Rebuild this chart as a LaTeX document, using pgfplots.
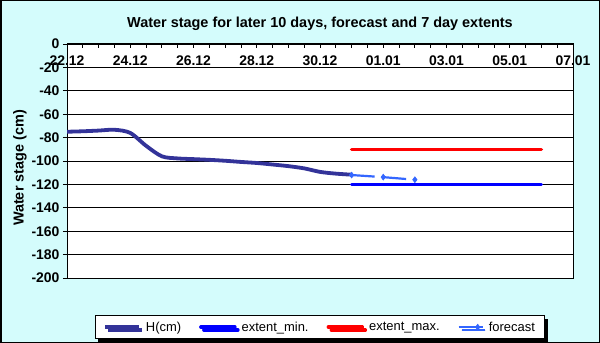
\documentclass[border=0pt]{standalone}
\usepackage{fontspec}
\setmainfont{Liberation Sans}
\usepackage{pgfplots}
\pgfplotsset{compat=1.18}
\usetikzlibrary{shadows}

\definecolor{bgcyan}{RGB}{212,252,252}
\definecolor{hnavy}{RGB}{51,51,153}
\definecolor{fcblue}{RGB}{51,102,255}

\pgfplotsset{fclegend/.style={legend image code/.code={%
    \draw[##1, solid] (0bp,0bp) -- (24bp,0bp);
    \path[##1] plot coordinates {(19bp,0bp)};}}}

% H(cm), read every half day from 22.12 (day 0)
\pgfplotstableread{
x y
0   -75
0.5 -74.6
1   -74
1.5 -73.3
2   -76
2.5 -87
3   -96
3.5 -97.8
4   -98.4
4.5 -99
5   -99.8
5.5 -100.8
6   -101.7
6.5 -103
7   -104.4
7.5 -106.3
8   -109.3
8.5 -110.8
9   -111.7
}\hdata

\begin{document}
\begin{tikzpicture}
\path[use as bounding box] (0,0) rectangle (600bp,343bp);
\fill[bgcyan] (0,0) rectangle (600bp,343bp);
\draw[black, line width=1.5bp] (0.75bp,0.75bp) rectangle (599.25bp,342.25bp);

\begin{axis}[
    at={(67bp,65bp)}, anchor=south west,
    scale only axis, width=506bp, height=234bp,
    xmin=0, xmax=16, ymin=-200, ymax=0,
    axis background/.style={fill=white},
    axis line style={black, line width=1bp},
    xtick={0,2,...,16},
    xticklabels={22.12,24.12,26.12,28.12,30.12,01.01,03.01,05.01,07.01},
    minor xtick={0,0.5,...,16},
    xtick pos=right, xticklabel pos=right,
    xtick align=inside,
    xticklabel style={anchor=north, yshift=-8bp},
    ytick={-200,-180,...,0},
    yticklabels={-200,-180,-160,-140,-120,-100,-80,-60,-40,-20,0},
    ytick pos=left, ytick align=outside,
    ymajorgrids,
    grid style={black, line width=0.8bp},
    tick style={black, line width=0.8bp},
    major tick length=4bp, minor tick length=4bp,
    ticklabel style={font=\fontsize{14}{16}\selectfont\bfseries},
    ylabel={Water stage (cm)},
    ylabel style={font=\fontsize{14.5}{16}\selectfont\bfseries, at={(ticklabel cs:0.47)}, yshift=-2bp},
    title={Water stage for later 10 days, forecast and 7 day extents},
    title style={font=\fontsize{14.5}{16}\selectfont\bfseries, at={(0.5,1)}, anchor=south, yshift=4bp},
    legend columns=4,
    legend style={at={(0.5,-0.21)}, anchor=center, draw=black, fill=white,
        line width=0.8bp, font=\fontsize{13}{15}\selectfont,
        inner xsep=8bp, inner ysep=4bp,
        drop shadow={shadow xshift=3bp, shadow yshift=-3bp, fill=black, opacity=1},
        /tikz/every odd column/.append style={column sep=3bp},
        /tikz/every even column/.append style={column sep=16bp}},
    legend image code/.code={\draw[mark repeat=2, mark phase=2, #1] plot coordinates {(0bp,0bp) (17bp,0bp) (34bp,0bp)};},
]
\addplot[hnavy, line width=3.8bp, smooth] table {\hdata};
\addlegendentry{H(cm)}
\addplot[blue, line width=3.5bp, line cap=round] coordinates {(9,-120) (15,-120)};
\addlegendentry{extent\_min.}
\addplot[red, line width=3.5bp, line cap=round] coordinates {(9,-90) (15,-90)};
\addlegendentry{extent\_max.}
\addplot[fcblue, line width=2.2bp, dash pattern=on 23bp off 8.6bp,
    mark=diamond*, mark size=3bp, mark options={solid, fill=fcblue, line width=0.5bp},
    fclegend]
    coordinates {(9,-112) (10,-113.8) (11,-116)};
\addlegendentry{forecast}
\end{axis}
\end{tikzpicture}
\end{document}
